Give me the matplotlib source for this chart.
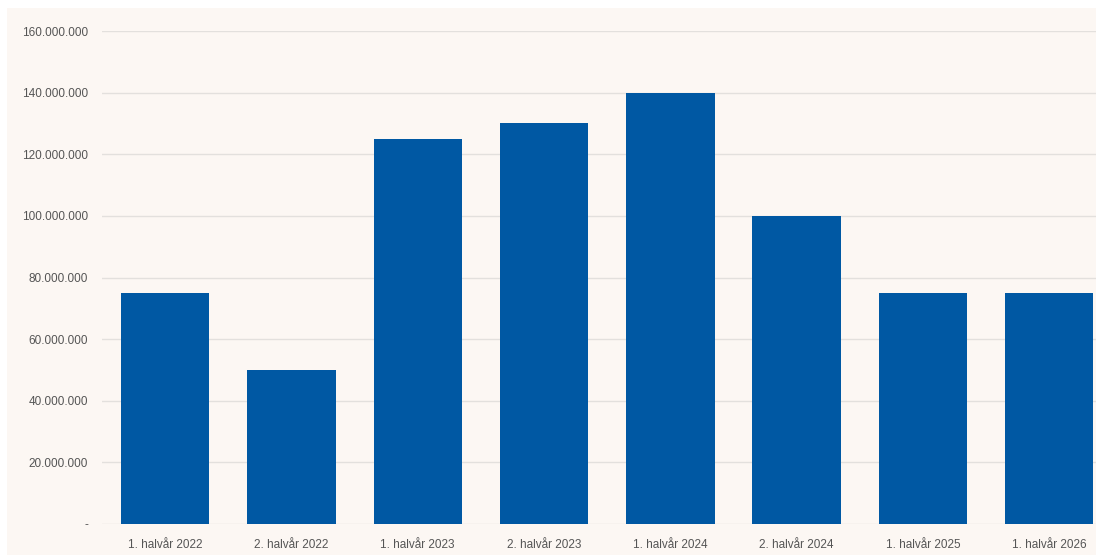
import matplotlib
matplotlib.use("Agg")
import matplotlib.pyplot as plt
from matplotlib.patches import Rectangle
from matplotlib.ticker import FuncFormatter

categories = ["1. halvår 2022", "2. halvår 2022", "1. halvår 2023", "2. halvår 2023",
              "1. halvår 2024", "2. halvår 2024", "1. halvår 2025", "1. halvår 2026"]
values = [75_000_000, 50_000_000, 125_000_000, 130_000_000,
          140_000_000, 100_000_000, 75_000_000, 75_000_000]
yticks = [0, 20_000_000, 40_000_000, 60_000_000, 80_000_000,
          100_000_000, 120_000_000, 140_000_000, 160_000_000]

plt.rcParams['font.family'] = ["Liberation Sans", "DejaVu Sans"]

bg = "#FCF7F3"
W, H = 1096, 555
fig = plt.figure(figsize=(W/100, H/100), dpi=100, facecolor="white")
fig.patches.append(Rectangle((7/W, 0), 1 - 7/W, (H-8)/H, transform=fig.transFigure,
                             facecolor=bg, edgecolor="none", zorder=-10))
ax = fig.add_axes([102/W, (H-524)/H, 1 - 102/W, (524-31)/H])
ax.set_facecolor("none")
ax.set_zorder(1)

x = range(len(categories))
ax.bar(x, values, width=0.70, color="#0058A3", zorder=3)
ax.set_xlim(-0.5, (W-102)/126.3 - 0.5)
ax.set_ylim(0, 160_000_000)
ax.set_yticks(yticks)

def fmt(v, pos):
    if v == 0:
        return "-"
    return f"{int(v):,}".replace(",", ".")

ax.yaxis.set_major_formatter(FuncFormatter(fmt))
ax.set_xticks(list(x))
ax.set_xticklabels(categories)
ax.tick_params(axis="both", length=0, labelsize=8.5, labelcolor="#555555")
ax.tick_params(axis="y", pad=10)
ax.tick_params(axis="x", pad=11)
ax.grid(axis="y", color="#E3E0DD", linewidth=1.0, zorder=0)
for s in ax.spines.values():
    s.set_visible(False)

fig.savefig("out.png", dpi=100, facecolor="white")
